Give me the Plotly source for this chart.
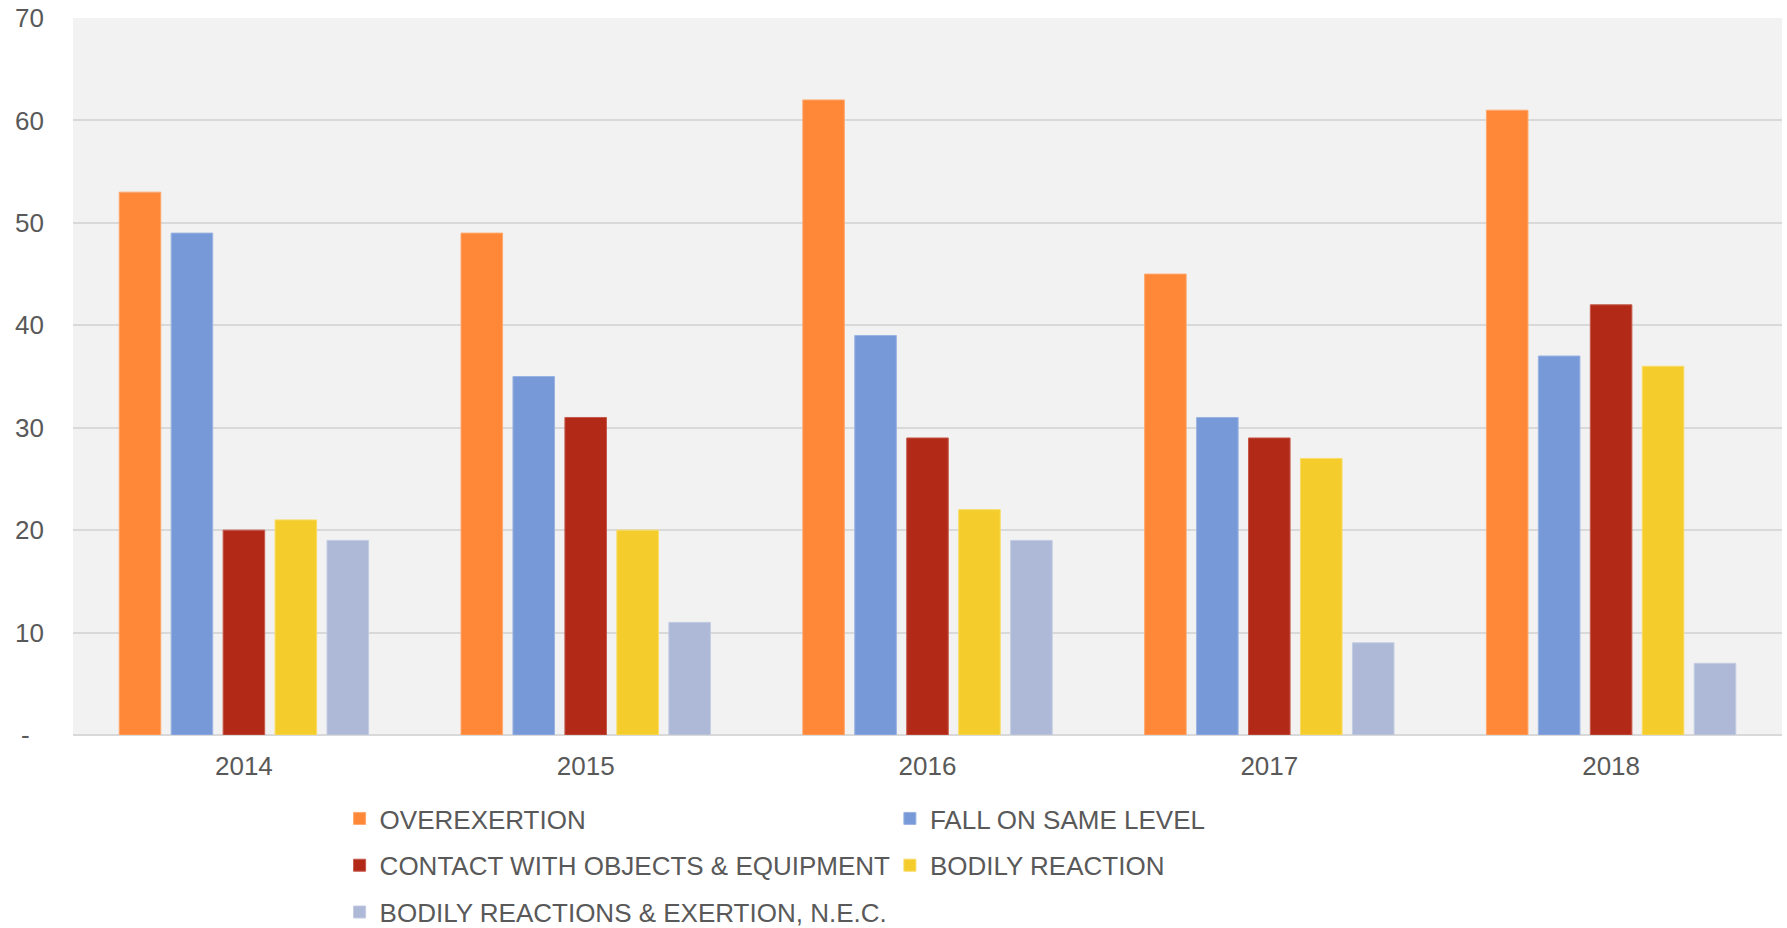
import plotly.graph_objects as go

# Yearly counts by injury event type
years = ["2014", "2015", "2016", "2017", "2018"]

overexertion = [53, 49, 62, 45, 61]
fall_same_level = [49, 35, 39, 31, 37]
contact_objects = [20, 31, 29, 29, 42]
bodily_reaction = [21, 20, 22, 27, 36]
bodily_nec = [19, 11, 19, 9, 7]

y_tick_values = [0, 10, 20, 30, 40, 50, 60, 70]
y_tick_labels = ["-\u00a0\u00a0", "10", "20", "30", "40", "50", "60", "70"]

series = [
    ("OVEREXERTION", overexertion, "#FF8838", "#FFA86E", "legend"),
    ("FALL ON SAME LEVEL", fall_same_level, "#7799D8", "#9AB3E2", "legend2"),
    ("CONTACT WITH OBJECTS & EQUIPMENT", contact_objects, "#B22A17", "#C55A4B", "legend"),
    ("BODILY REACTION", bodily_reaction, "#F4CD2C", "#F8DC66", "legend2"),
    ("BODILY REACTIONS & EXERTION, N.E.C.", bodily_nec, "#ADB9D6", "#C3CCE2", "legend"),
]

text_color = "#595959"
font_family = "Liberation Sans, Arial, sans-serif"

fig = go.Figure()
for name, values, fill, edge, legend_id in series:
    fig.add_trace(go.Bar(
        x=years,
        y=values,
        name=name,
        legend=legend_id,
        legendgroup=name,
        marker=dict(color=fill, line=dict(color=edge, width=1)),
    ))

legend_style = dict(
    orientation="v",
    xanchor="left",
    yanchor="top",
    y=-0.0837,
    font=dict(family=font_family, size=26, color=text_color),
    bgcolor="rgba(0,0,0,0)",
    tracegroupgap=10,
    itemclick=False,
)

fig.update_layout(
    width=1787,
    height=928,
    margin=dict(l=73, r=5, t=18, b=193, autoexpand=False),
    paper_bgcolor="white",
    plot_bgcolor="#F2F2F2",
    barmode="group",
    bargap=0.24,
    bargroupgap=0.2,
    font=dict(family=font_family, size=26, color=text_color),
    showlegend=True,
    legend=dict(x=0.156, **legend_style),
    legend2=dict(x=0.478, **legend_style),
    xaxis=dict(
        type="category",
        showgrid=False,
        showline=False,
        ticks="",
        ticklabelstandoff=13,
        tickfont=dict(family=font_family, size=26, color=text_color),
    ),
    yaxis=dict(
        range=[0, 70],
        tickmode="array",
        tickvals=y_tick_values,
        ticktext=y_tick_labels,
        showgrid=True,
        gridcolor="#D9D9D9",
        gridwidth=1.5,
        zeroline=True,
        zerolinecolor="#D9D9D9",
        zerolinewidth=2,
        showline=False,
        ticks="",
        ticklabelstandoff=28,
        tickfont=dict(family=font_family, size=26, color=text_color),
    ),
)

fig.write_html("out.html")
